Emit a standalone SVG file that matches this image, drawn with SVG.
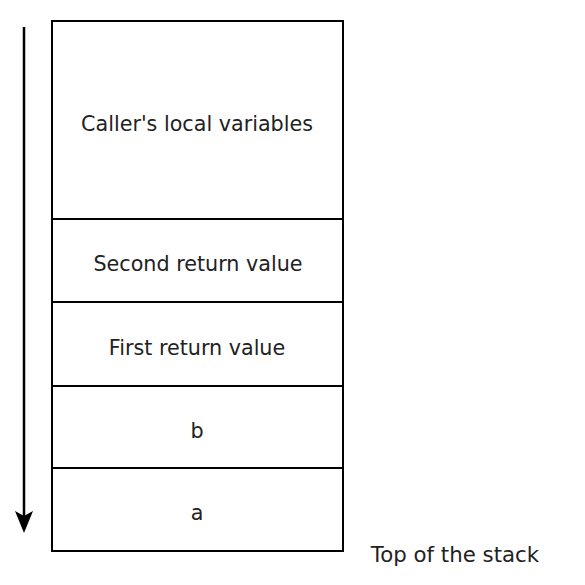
<svg xmlns="http://www.w3.org/2000/svg" width="585" height="585" viewBox="0 0 585 585">
<style>
.box{fill:#fff;stroke:#000;stroke-width:2}
.lbl{font-family:"DejaVu Sans",Verdana,sans-serif;font-size:20.7px;fill:#222;text-anchor:middle}
</style>
<rect width="585" height="585" fill="#fff"/>
<g id="connectors">
<line x1="24" y1="27" x2="24" y2="516" stroke="#000" stroke-width="2.5"/>
<path d="M15,511 L24,516 L33,511 L24,533 Z" fill="#000"/>
</g>
<g id="callers-locals"><rect class="box" x="52" y="21" width="291" height="198"/><text class="lbl" x="197" y="131">Caller's local variables</text></g>
<g id="second-return"><rect class="box" x="52" y="219" width="291" height="83"/><text class="lbl" x="198" y="271">Second return value</text></g>
<g id="first-return"><rect class="box" x="52" y="302" width="291" height="84"/><text class="lbl" x="197" y="355">First return value</text></g>
<g id="b"><rect class="box" x="52" y="386" width="291" height="82"/><text class="lbl" x="197" y="438">b</text></g>
<g id="a"><rect class="box" x="52" y="468" width="291" height="83"/><text class="lbl" x="197" y="520">a</text></g>
<g id="top-label"><text class="lbl" x="455" y="562" style="font-size:21.3px">Top of the stack</text></g>
</svg>
